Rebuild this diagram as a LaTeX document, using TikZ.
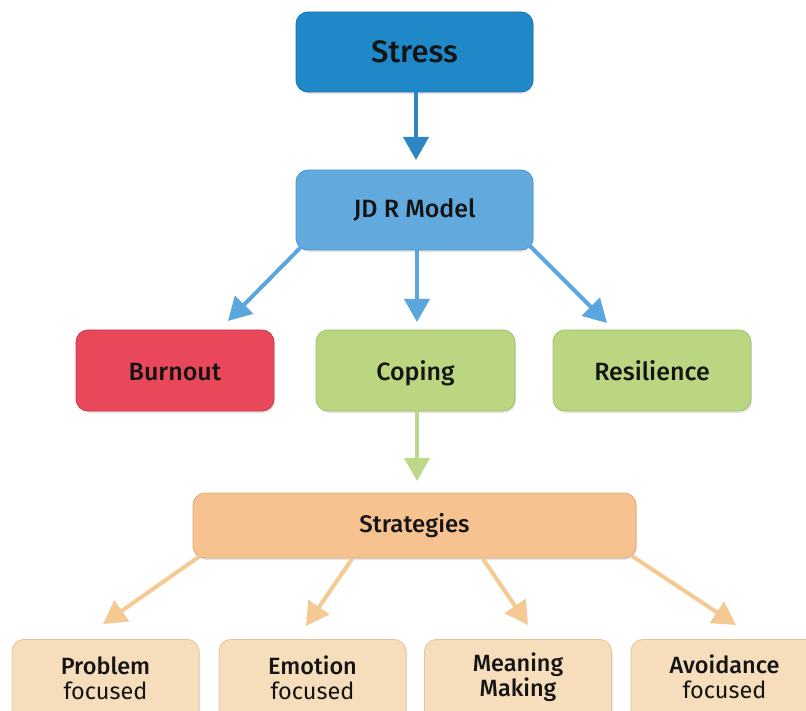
\documentclass[tikz,border=0pt]{standalone}
\usepackage{fontspec}
\setmainfont{Fira Sans}[UprightFont={* Medium}]
\newfontfamily\lightface{Fira Sans}
\usetikzlibrary{arrows.meta,shadows,calc}

\definecolor{stressfill}{HTML}{1F88C8}
\definecolor{stressline}{HTML}{1A72A8}
\definecolor{jdrfill}{HTML}{62A9DE}
\definecolor{jdrline}{HTML}{4F93C6}
\definecolor{burnfill}{HTML}{E8485A}
\definecolor{burnline}{HTML}{C93A4A}
\definecolor{greenfill}{HTML}{BBD680}
\definecolor{greenline}{HTML}{A3BF6C}
\definecolor{stratfill}{HTML}{F5C290}
\definecolor{stratline}{HTML}{DDAA78}
\definecolor{leaffill}{HTML}{F6DDBB}
\definecolor{leafline}{HTML}{E0C49F}
\definecolor{txt}{HTML}{141414}
\definecolor{arrblue}{HTML}{2C86C3}
\definecolor{arrlight}{HTML}{5BA6DD}
\definecolor{arrgreen}{HTML}{BCD98A}
\definecolor{arrorange}{HTML}{F5C993}

\tikzset{
  box/.style={rounded corners=12pt, line width=0.8pt, text=txt, align=center,
    inner sep=0pt, drop shadow={opacity=0.22, shadow xshift=1pt, shadow yshift=-1.8pt}},
  midbox/.style={box, minimum width=198pt, minimum height=81pt,
    font=\fontsize{25}{29}\selectfont, text height=21pt, text depth=0pt},
  arr/.style={line width=4pt, -{Triangle[width=25pt,length=23pt]}},
}

\begin{document}
\begin{tikzpicture}[x=1pt,y=-1pt]
\useasboundingbox (0,0) rectangle (806,711);
\clip (0,0) rectangle (806,711);

% main chain
\node[box, fill=stressfill, draw=stressline, minimum width=237pt, minimum height=80pt,
      font=\fontsize{31}{35}\selectfont] (stress) at (414.5,52) {Stress};
\node[box, fill=jdrfill, draw=jdrline, minimum width=237pt, minimum height=80pt,
      font=\fontsize{25}{29}\selectfont] (jdr) at (414.5,210) {JD R Model};

% outcomes of the JD-R model
\node[midbox, fill=burnfill, draw=burnline] (burnout) at (175,370.5) {Burnout};
\node[midbox, fill=greenfill, draw=greenline, minimum width=199pt] (coping) at (415.5,370.5) {Coping};
\node[midbox, fill=greenfill, draw=greenline] (resil) at (652,370.5) {Resilience};

% coping strategies
\node[box, fill=stratfill, draw=stratline, minimum width=443pt, minimum height=65pt,
      font=\fontsize{24}{28}\selectfont] (strat) at (414.5,525.5) {Strategies};

\tikzset{leaf/.style={box, fill=leaffill, draw=leafline, minimum width=187pt,
      minimum height=100pt, anchor=north},
  leaftext/.style={font=\fontsize{23.5}{25}\selectfont, text=txt, align=center}}
\node[leaf] (prob) at (105.5,639) {};
\node[leaf] (emot) at (312.5,639) {};
\node[leaf] (mean) at (518,639) {};
\node[leaf] (avoid) at (724.5,639) {};
\node[leaftext] (probt) at (105.5,678) {Problem\\{\lightface focused}};
\node[leaftext] (emott) at (312.5,678) {Emotion\\{\lightface focused}};
\node[leaftext] (meant) at (518,677) {Meaning\\Making};
\node[leaftext] (avoidt) at (724.5,677) {Avoidance\\{\lightface focused}};

% arrow end points
\coordinate (c1) at (416,160);
\coordinate (b0) at (301,247);  \coordinate (b1) at (228,321);
\coordinate (k0) at (417,250);  \coordinate (k1) at (417,322);
\coordinate (r0) at (529,245);  \coordinate (r1) at (607,323);
\coordinate (g0) at (417,411);  \coordinate (g1) at (417,481);
\coordinate (p0) at (200,556);  \coordinate (p1) at (103,624);
\coordinate (e0) at (352,559);  \coordinate (e1) at (306,626);
\coordinate (m0) at (483,559);  \coordinate (m1) at (528,625);
\coordinate (a0) at (632,556);  \coordinate (a1) at (736,625);

% connectors
\draw[arr, arrblue] (stress.south -| c1) -- (c1);
\draw[arr, arrlight] (b0) -- (b1);
\draw[arr, arrlight] (k0) -- (k1);
\draw[arr, arrlight] (r0) -- (r1);
\draw[arr, arrgreen] (g0) -- (g1);
\draw[arr, arrorange] (p0) -- (p1);
\draw[arr, arrorange] (e0) -- (e1);
\draw[arr, arrorange] (m0) -- (m1);
\draw[arr, arrorange] (a0) -- (a1);
\end{tikzpicture}
\end{document}
